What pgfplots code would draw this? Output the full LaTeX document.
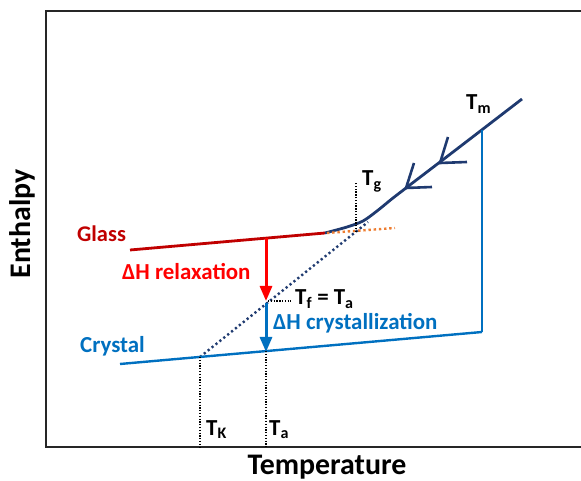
\documentclass[border=0pt]{standalone}
\usepackage{pgfplots}
\pgfplotsset{compat=1.18}
\usepackage{fontspec}
\setmainfont{Carlito}
\usetikzlibrary{arrows.meta}
\definecolor{navy}{HTML}{1F3A70}
\definecolor{glassred}{HTML}{C00000}
\definecolor{brightred}{HTML}{FF0000}
\definecolor{cblue}{HTML}{0070C0}
\definecolor{corange}{HTML}{ED7D31}
\begin{document}
\begin{tikzpicture}[x=1bp,y=1bp]
\begin{axis}[
  scale only axis,
  width=535bp, height=436bp,
  xmin=46, xmax=581, ymin=34, ymax=470,
  axis line style={draw=none},
  xtick=\empty, ytick=\empty,
  clip=false,
  every node/.style={font=\bfseries},
]
% frame (left, top, bottom)
\draw[line width=1.8bp, black!85] (axis cs:581,470) -- (axis cs:46,470) -- (axis cs:46,34) -- (axis cs:581,34);
\coordinate (BL) at (axis cs:0,0);
\coordinate (TR) at (axis cs:581,481);
% glass line
\addplot[glassred, line width=2.8bp] coordinates {(130,231) (325,248)};
% navy cooling curve
\addplot[navy, line width=2.8bp, smooth, tension=0.5] coordinates {(325,248) (347,254) (363,260) (377,270) (393,283) (410,296)};
\addplot[navy, line width=2.8bp] coordinates {(408,294.6) (440,319) (480,349.7) (522,382)};
% chevrons
\addplot[navy, line width=2.6bp, line join=miter] coordinates {(448,344) (440,318) (467,319)};
\addplot[navy, line width=2.6bp, line join=miter] coordinates {(414,318) (406,293) (432,294)};
% orange dotted extrapolation
\addplot[corange, line width=2.4bp, dash pattern=on 2.4bp off 2.8bp] coordinates {(327,248) (395,253)};
% navy dotted supercooled liquid
\addplot[navy, line width=2.4bp, dash pattern=on 2.2bp off 2.8bp] coordinates {(200,124) (368,259)};
% crystal line
\addplot[cblue, line width=2.4bp] coordinates {(120,117) (482,149)};
% Tm vertical
\addplot[cblue, line width=2.4bp] coordinates {(482,149) (482,351)};
% black dotted guides
\addplot[black, line width=1.3bp, dash pattern=on 1.3bp off 1.5bp] coordinates {(356,249) (356,298)};
\addplot[black, line width=1.3bp, dash pattern=on 1.3bp off 1.5bp] coordinates {(200,124) (200,34)};
\addplot[black, line width=1.3bp, dash pattern=on 1.3bp off 1.5bp] coordinates {(266,130) (266,34)};
\addplot[black, line width=1.3bp, dash pattern=on 1.3bp off 1.5bp] coordinates {(268,180) (291,180)};
% arrows
\addplot[brightred, line width=3bp, -{Triangle[length=15bp,width=12bp]}] coordinates {(266,243) (266,180)};
\addplot[cblue, line width=3bp, -{Triangle[length=15bp,width=12bp]}] coordinates {(266,178) (266,129)};
% labels
\node[anchor=base west, text=glassred, font=\bfseries\fontsize{22.5}{24}\selectfont, inner sep=0pt] at (axis cs:77,239) {Glass};
\node[anchor=base west, text=brightred, font=\bfseries\fontsize{23}{24}\selectfont, inner sep=0pt] at (axis cs:122,201) {ΔH relaxation};
\node[anchor=base west, text=cblue, font=\bfseries\fontsize{23}{24}\selectfont, inner sep=0pt] at (axis cs:80,128) {Crystal};
\node[anchor=base west, text=cblue, font=\bfseries\fontsize{23}{24}\selectfont, inner sep=0pt] at (axis cs:273,151) {ΔH crystallization};
\node[anchor=base west, font=\bfseries\fontsize{23}{24}\selectfont, inner sep=0pt] at (axis cs:295,176) {T\textsubscript{f} = T\textsubscript{a}};
\node[anchor=base west, font=\bfseries\fontsize{23}{24}\selectfont, inner sep=0pt] at (axis cs:206,46) {T\textsubscript{K}};
\node[anchor=base west, font=\bfseries\fontsize{23}{24}\selectfont, inner sep=0pt] at (axis cs:269,46) {T\textsubscript{a}};
\node[anchor=base west, font=\bfseries\fontsize{23}{24}\selectfont, inner sep=0pt] at (axis cs:466,371) {T\textsubscript{m}};
\node[anchor=base west, font=\bfseries\fontsize{23}{24}\selectfont, inner sep=0pt] at (axis cs:362,295) {T\textsubscript{g}};
\node[anchor=base, font=\bfseries\fontsize{30}{32}\selectfont, inner sep=0pt] at (axis cs:327,7) {Temperature};
\node[anchor=center, rotate=90, font=\bfseries\fontsize{30}{32}\selectfont, inner sep=0pt] at (axis cs:22,257) {Enthalpy};
\end{axis}
\pgfresetboundingbox
\useasboundingbox (BL) rectangle (TR);
\end{tikzpicture}
\end{document}
